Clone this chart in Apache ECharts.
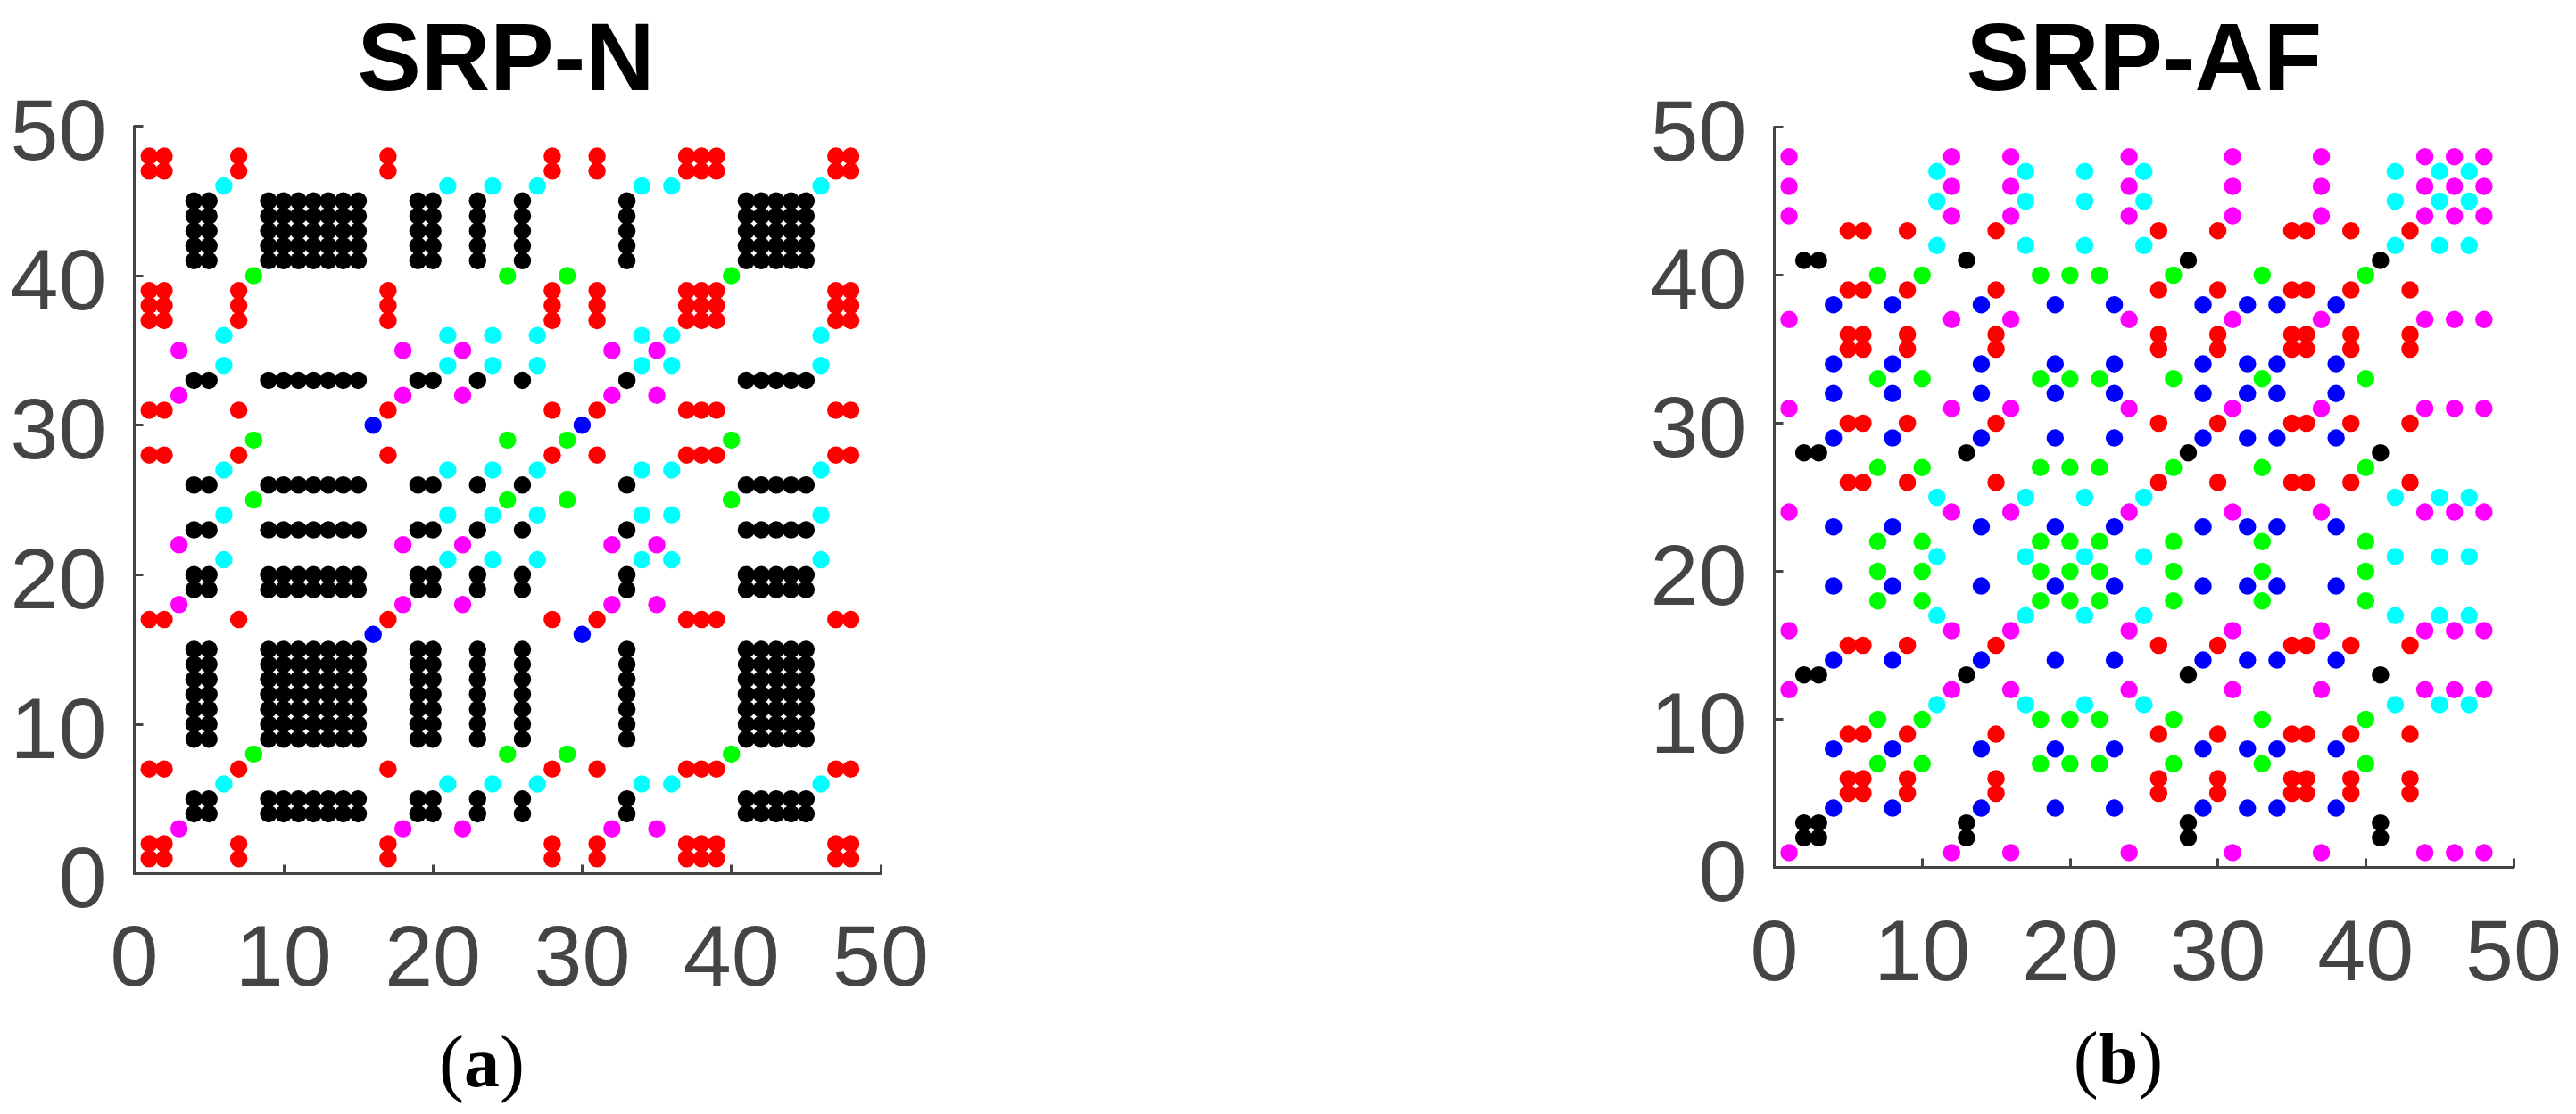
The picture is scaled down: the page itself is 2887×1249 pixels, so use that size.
<!DOCTYPE html>
<html>
<head>
<meta charset="utf-8">
<title>SRP-N / SRP-AF</title>
<style>
html, body { margin: 0; padding: 0; background: #fff; overflow: hidden; }
#main { width: 2887px; height: 1249px; }
</style>
<script src="https://cdn.jsdelivr.net/npm/echarts@6/dist/echarts.min.js"></script>
</head>
<body>
<div id="main"></div>
<script>
// tick labels
var ticks = [0, 10, 20, 30, 40, 50];
var titles = ['SRP-N', 'SRP-AF'];
var captions = ['a', 'b'];

// Each list holds the indices of one group. The matrix is symmetric in blocks:
// a dot sits at (x, y) whenever both x and y are in the same list.
// SRP-N
var nRed = [1, 2, 7, 17, 28, 31, 37, 38, 39, 47, 48];
var nCyan = [6, 21, 24, 27, 34, 36, 46];
var nBlack = [4, 5, 9, 10, 11, 12, 13, 14, 15, 19, 20, 23, 26, 33, 41, 42, 43, 44, 45];
var nGreen = [8, 25, 29, 40];
var nBlue = [16, 30];
var nMagenta = [3, 18, 22, 32, 35];
// SRP-AF
var afRed = [5, 6, 9, 15, 26, 30, 35, 36, 39, 43];
var afCyan = [11, 17, 21, 25, 42, 45, 47];
var afBlack = [2, 3, 13, 28, 41];
var afGreen = [7, 10, 18, 20, 22, 27, 33, 40];
var afBlue = [4, 8, 14, 19, 23, 29, 32, 34, 38];
var afMagenta = [1, 12, 16, 24, 31, 37, 44, 46, 48];

var colorAxis = '#444444';
var colors = { red: '#ff0000', cyan: '#00ffff', black: '#000000', green: '#00ff00', blue: '#0000ff', magenta: '#ff00ff' };

// every (x, y) pair of a block
function GetPairs(list) {
	var res = [];
	for (var i = 0; i < list.length; i++) {
		for (var j = 0; j < list.length; j++) res.push([list[i], list[j]]);
	}
	return res;
}
function GetSeries(num, list, color) {
	return {
		type: 'scatter',
		xAxisIndex: num,
		yAxisIndex: num,
		symbol: 'circle',
		symbolSize: 19.5,
		silent: true,
		itemStyle: { color: color, opacity: 1 },
		data: GetPairs(list)
	};
}
function GetAxis(num, pos) {
	return {
		type: 'value',
		gridIndex: num,
		position: pos,
		min: ticks[0],
		max: ticks[ticks.length - 1],
		interval: 10,
		splitLine: { show: false },
		axisLine: { show: true, onZero: false, lineStyle: { color: colorAxis, width: 3 } },
		axisTick: { show: true, inside: true, length: 10, lineStyle: { color: colorAxis, width: 3 } },
		axisLabel: pos === 'left'
			// labels sit a little below their tick in the original
			? { color: colorAxis, fontFamily: 'Liberation Sans', fontSize: 97, margin: 31, verticalAlign: 'top', lineHeight: 22, showMinLabel: true, showMaxLabel: true, hideOverlap: false }
			: { color: colorAxis, fontFamily: 'Liberation Sans', fontSize: 97, margin: 51 - (num === 0 ? 1 : 0), showMinLabel: true, showMaxLabel: true, hideOverlap: false }
	};
}
function GetTitle(text, x) {
	return {
		text: text, left: x, top: 13, textAlign: 'center',
		textStyle: { fontFamily: 'Liberation Sans', fontWeight: 'bold', fontSize: 107, color: '#000' }
	};
}
function GetCaption(letter, x, y) {
	return {
		text: '{p|(}{b|' + letter + '}{p|)}', left: x, top: y, textAlign: 'center',
		textStyle: {
			fontWeight: 'normal',
			rich: {
				p: { fontFamily: 'Liberation Serif', fontWeight: 'normal', fontSize: 84, color: '#000' },
				b: { fontFamily: 'Liberation Serif', fontWeight: 'bold', fontSize: 80, color: '#000' }
			}
		}
	};
}

var chart = echarts.init(document.getElementById('main'));
chart.setOption({
	animation: false,
	backgroundColor: '#fff',
	title: [
		GetTitle(titles[0], 562), GetTitle(titles[1], 2398),
		GetCaption(captions[0], 535, 1150), GetCaption(captions[1], 2369, 1146)
	],
	grid: [
		{ left: 150.5, top: 141.5, width: 836.5, height: 838 },
		{ left: 1988.5, top: 142.5, width: 828.5, height: 830 }
	],
	xAxis: [GetAxis(0, 'bottom'), GetAxis(1, 'bottom')],
	yAxis: [GetAxis(0, 'left'), GetAxis(1, 'left')],
	series: [
		GetSeries(0, nRed, colors.red),
		GetSeries(0, nCyan, colors.cyan),
		GetSeries(0, nBlack, colors.black),
		GetSeries(0, nGreen, colors.green),
		GetSeries(0, nBlue, colors.blue),
		GetSeries(0, nMagenta, colors.magenta),
		GetSeries(1, afRed, colors.red),
		GetSeries(1, afCyan, colors.cyan),
		GetSeries(1, afBlack, colors.black),
		GetSeries(1, afGreen, colors.green),
		GetSeries(1, afBlue, colors.blue),
		GetSeries(1, afMagenta, colors.magenta)
	]
});
</script>
</body>
</html>
